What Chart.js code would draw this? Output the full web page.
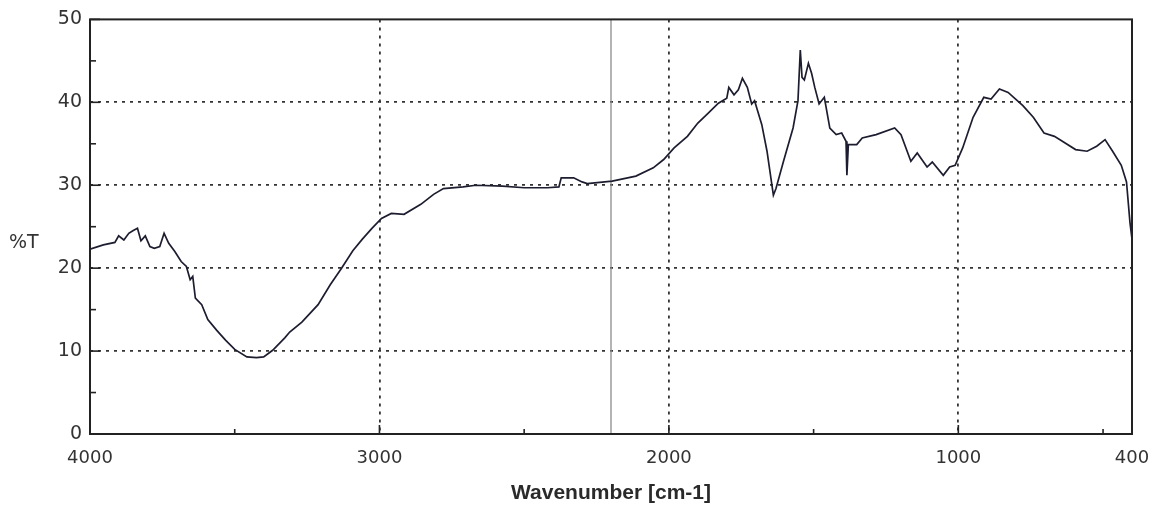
<!DOCTYPE html>
<html>
<head>
<meta charset="utf-8">
<title>IR spectrum</title>
<script src="https://cdn.jsdelivr.net/npm/chart.js@4.4.0/dist/chart.umd.min.js"></script>
<style>
  html, body { margin: 0; padding: 0; background: #fff; }
  #wrap { width: 1156px; height: 510px; }
</style>
</head>
<body>
<div id="wrap"><canvas id="irChart" width="1156" height="510"></canvas></div>
<script>
// spectrum (wavenumber in cm-1, %T)
const wavenumbers = [
  4000, 3954, 3914, 3901, 3883, 3866, 3852, 3836, 3824, 3809,
  3793, 3778, 3759, 3744, 3728, 3707, 3685, 3667, 3654, 3645,
  3636, 3614, 3593, 3562, 3531, 3500, 3458, 3425, 3400, 3369,
  3327, 3310, 3268, 3212, 3170, 3131, 3092, 3059, 3026, 2993,
  2959, 2915, 2857, 2813, 2779, 2711, 2667, 2575, 2500, 2420,
  2380, 2372, 2329, 2300, 2282, 2196, 2114, 2054, 2018, 1982,
  1936, 1900, 1864, 1829, 1800, 1793, 1775, 1760, 1746, 1729,
  1714, 1704, 1679, 1661, 1639, 1630, 1604, 1571, 1554, 1546,
  1540, 1532, 1518, 1507, 1496, 1481, 1463, 1444, 1422, 1403,
  1388, 1385, 1380, 1351, 1332, 1284, 1220, 1198, 1164, 1142,
  1108, 1090, 1052, 1030, 1011, 985, 949, 912, 887, 858,
  828, 777, 741, 704, 668, 631, 595, 555, 522, 493,
  467, 437, 419, 407, 400
];
const transmittance = [
  22.3, 22.8, 23.1, 23.9, 23.4, 24.2, 24.5, 24.8, 23.3, 23.9,
  22.6, 22.4, 22.6, 24.2, 23.0, 22.0, 20.8, 20.2, 18.6, 19.0,
  16.4, 15.6, 13.8, 12.5, 11.3, 10.2, 9.3, 9.2, 9.3, 10.1,
  11.6, 12.3, 13.5, 15.6, 18.0, 20.0, 22.1, 23.5, 24.8, 26.0,
  26.6, 26.5, 27.7, 28.9, 29.6, 29.8, 30.0, 29.9, 29.7, 29.7,
  29.8, 30.9, 30.9, 30.4, 30.2, 30.5, 31.1, 32.1, 33.1, 34.5,
  35.9, 37.5, 38.7, 39.9, 40.5, 41.8, 40.9, 41.5, 42.9, 41.8,
  39.8, 40.2, 37.3, 34.1, 28.8, 29.6, 32.9, 36.9, 40.2, 46.3,
  43.0, 42.7, 44.7, 43.5, 41.8, 39.8, 40.6, 36.9, 36.1, 36.3,
  35.3, 31.2, 34.9, 34.9, 35.7, 36.1, 36.9, 36.1, 32.9, 33.9,
  32.2, 32.8, 31.2, 32.2, 32.4, 34.5, 38.2, 40.6, 40.4, 41.6,
  41.2, 39.6, 38.2, 36.3, 35.9, 35.1, 34.3, 34.1, 34.7, 35.5,
  34.1, 32.4, 30.4, 25.5, 23.5
];

const xTickValues = [4000, 3500, 3000, 2500, 2000, 1500, 1000, 500, 400];
const xLabelValues = [4000, 3000, 2000, 1000, 400];
const xGridValues = [3000, 2000, 1000];
const yTickValues = [0, 5, 10, 15, 20, 25, 30, 35, 40, 45, 50];
const yGridValues = [10, 20, 30, 40];
const markerWavenumber = 2200;

const fontFamily = '"DejaVu Sans", "Liberation Sans", sans-serif';

// frame, inward tick marks, grey marker line and the %T label
const framePlugin = {
  id: 'frame',
  beforeDatasetsDraw(chart) {
    const { ctx, chartArea: a, scales: { x, y } } = chart;
    ctx.save();

    let mx = x.getPixelForValue(markerWavenumber);
    ctx.strokeStyle = '#8c8c8c';
    ctx.lineWidth = 1.3;
    ctx.beginPath();
    ctx.moveTo(mx, a.top);
    ctx.lineTo(mx, a.bottom);
    ctx.stroke();

    ctx.strokeStyle = '#222';
    ctx.lineWidth = 1.6;
    yTickValues.forEach(v => {
      let py = y.getPixelForValue(v);
      let len = v % 10 === 0 ? 10 : 6;
      ctx.beginPath();
      ctx.moveTo(a.left, py);
      ctx.lineTo(a.left + len, py);
      ctx.stroke();
    });
    xTickValues.forEach(v => {
      let px = x.getPixelForValue(v);
      let len = xGridValues.includes(v) ? 9 : 5;
      ctx.beginPath();
      ctx.moveTo(px, a.bottom);
      ctx.lineTo(px, a.bottom - len);
      ctx.stroke();
    });

    ctx.lineWidth = 2;
    ctx.strokeRect(a.left, a.top, a.right - a.left, a.bottom - a.top);
    ctx.restore();
  },
  afterDraw(chart) {
    const { ctx, scales: { y } } = chart;
    ctx.save();
    ctx.fillStyle = '#333';
    ctx.font = '19px ' + fontFamily;
    ctx.textBaseline = 'middle';
    ctx.fillText('%T', 9, y.getPixelForValue(23));
    ctx.restore();
  }
};

let ctx = document.getElementById('irChart').getContext('2d');

let irChart = new Chart(ctx, {
  type: 'line',
  data: {
    datasets: [{
      label: '%T',
      data: wavenumbers.map((w, i) => ({ x: w, y: transmittance[i] })),
      borderColor: '#1d1d30',
      borderWidth: 1.7,
      pointRadius: 0,
      fill: false,
      tension: 0
    }]
  },
  options: {
    responsive: false,
    animation: false,
    layout: { padding: { top: 18, right: 24, left: 0, bottom: 0 } },
    plugins: {
      legend: { display: false },
      tooltip: { enabled: false }
    },
    scales: {
      x: {
        type: 'linear',
        reverse: true,
        min: 400,
        max: 4000,
        afterBuildTicks: s => { s.ticks = xTickValues.map(v => ({ value: v })); },
        afterFit: s => { s.height = 76; s.paddingLeft = 0; s.paddingRight = 0; },
        ticks: {
          autoSkip: false,
          maxRotation: 0,
          padding: 14,
          color: '#333',
          font: { size: 18, family: fontFamily },
          callback: v => xLabelValues.includes(v) ? String(v) : ''
        },
        grid: {
          drawTicks: false,
          lineWidth: 1.8,
          color: c => (c.tick && xGridValues.includes(c.tick.value)) ? '#333' : 'rgba(0,0,0,0)'
        },
        border: { display: false, dash: [3, 5] },
        title: {
          display: true,
          text: 'Wavenumber [cm-1]',
          color: '#2a2a2a',
          font: { size: 21, weight: 'bold', family: '"Liberation Sans", Arial, sans-serif' },
          padding: { top: 0, bottom: 4 }
        }
      },
      y: {
        min: 0,
        max: 50,
        afterBuildTicks: s => { s.ticks = yTickValues.map(v => ({ value: v })); },
        afterFit: s => { s.width = 90; },
        ticks: {
          padding: 8,
          color: '#333',
          font: { size: 19, family: fontFamily },
          callback: v => v % 10 === 0 ? String(v) : ''
        },
        grid: {
          drawTicks: false,
          lineWidth: 1.8,
          color: c => (c.tick && yGridValues.includes(c.tick.value)) ? '#333' : 'rgba(0,0,0,0)'
        },
        border: { display: false, dash: [3, 5] }
      }
    }
  },
  plugins: [framePlugin]
});
</script>
</body>
</html>
